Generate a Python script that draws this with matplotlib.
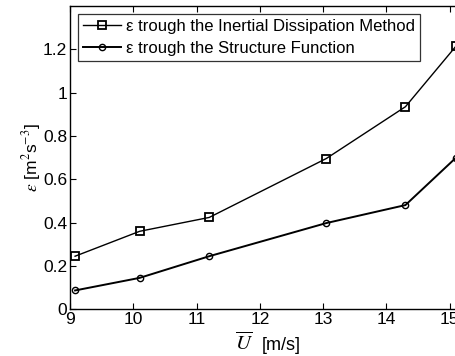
import matplotlib.pyplot as plt

# wind speed (m/s) and dissipation rate estimates
u_mean = [9.08, 10.1, 11.2, 13.05, 14.3, 15.1]
eps_idm = [0.245, 0.36, 0.424, 0.696, 0.935, 1.215]
eps_sf = [0.087, 0.145, 0.245, 0.398, 0.481, 0.70]
xticks = [9, 10, 11, 12, 13, 14, 15]
yticks = [0, 0.2, 0.4, 0.6, 0.8, 1.0, 1.2]
yticklabels = ["0", "0.2", "0.4", "0.6", "0.8", "1", "1.2"]

plt.rcParams["font.family"] = ["Liberation Sans", "DejaVu Sans"]
plt.rcParams["mathtext.fontset"] = "stix"

fig = plt.figure(figsize=(4.56, 3.56), dpi=100)
# the original figure is cut off on the right, so the axes run past the edge
ax = fig.add_axes([70 / 456, 46.7 / 356, 443 / 456, 303.3 / 356])

ax.plot(u_mean, eps_idm, color="black", lw=1.0, marker="s", ms=5.5,
        mfc="none", mew=1.3, label="\u03b5 trough the Inertial Dissipation Method")
ax.plot(u_mean, eps_sf, color="black", lw=1.4, marker="o", ms=4.5,
        mfc="none", mew=1.0, label="\u03b5 trough the Structure Function")

ax.set_xlim(9, 16)
ax.set_ylim(0, 1.4)
ax.set_xticks(xticks)
ax.set_yticks(yticks)
ax.set_yticklabels(yticklabels)
ax.tick_params(direction="in", top=True, right=True, labelsize=12.5,
               length=4, width=0.8, pad=2)
for s in ax.spines.values():
    s.set_linewidth(1.0)

# x label: big italic U with a bar, then the unit
fig.text(244 / 456, 1 - 343 / 356, r"$\overline{U}$", fontsize=15,
         ha="center", va="center")
fig.text(281 / 456, 1 - 346 / 356, "[m/s]", fontsize=13,
         ha="center", va="center")

ax.set_ylabel(r"$\epsilon$ [m$^2$s$^{-3}$]", fontsize=12.5, labelpad=0)

leg = ax.legend(loc="upper left", bbox_to_anchor=(0.0, 1.0), fontsize=12,
                frameon=True, fancybox=False, edgecolor="black",
                handlelength=2.3, handletextpad=0.3, borderpad=0.3,
                labelspacing=0.45, borderaxespad=0.45)
leg.get_frame().set_linewidth(0.9)

fig.savefig("out.png", dpi=100)
